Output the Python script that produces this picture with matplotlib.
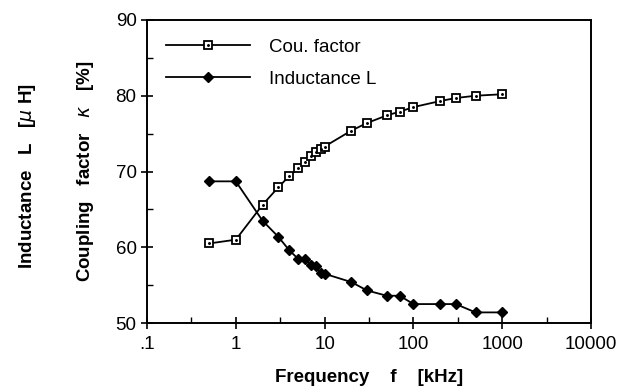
import matplotlib
matplotlib.use("Agg")
import matplotlib.pyplot as plt
import numpy as np
from matplotlib.ticker import FixedLocator, FixedFormatter

plt.rcParams['font.family'] = ['Liberation Sans', 'DejaVu Sans']

# frequency in kHz
freq = [0.5, 1, 2, 3, 4, 5, 6, 7, 8, 9, 10, 20, 30, 50, 70, 100, 200, 300, 500, 1000]
# coupling factor kappa [%]
coupling = [60.5, 61.0, 65.6, 67.9, 69.4, 70.4, 71.2, 72.0, 72.6, 73.0, 73.3,
            75.4, 76.4, 77.4, 77.9, 78.5, 79.3, 79.7, 80.0, 80.2]
# inductance L [uH]
inductance = [68.7, 68.7, 63.5, 61.4, 59.6, 58.5, 58.5, 57.6, 57.5, 56.6, 56.5,
              55.4, 54.3, 53.6, 53.6, 52.5, 52.5, 52.5, 51.4, 51.4]

xticks = [0.1, 1, 10, 100, 1000, 10000]
xticklabels = ['.1', '1', '10', '100', '1000', '10000']
yticks = [50, 60, 70, 80, 90]

fig = plt.figure(figsize=(6.29, 3.92), dpi=100)
ax = fig.add_axes([0.2337, 0.176, 0.706, 0.773])

l1, = ax.plot(freq, coupling, '-', color='black', lw=1.3, marker='s', ms=5.8,
              mfc='white', mec='black', mew=1.3)
d1, = ax.plot(freq, coupling, ' ', color='black', marker='.', ms=2.2)
l2, = ax.plot(freq, inductance, '-', color='black', lw=1.3, marker='D', ms=5.2,
              mfc='black', mec='black')

ax.set_xscale('log')
ax.set_xlim(0.1, 10000)
ax.set_ylim(50, 90)

ax.xaxis.set_major_locator(FixedLocator(xticks))
ax.xaxis.set_major_formatter(FixedFormatter(xticklabels))
ax.xaxis.set_minor_locator(FixedLocator([10 ** (k + 0.5) for k in range(-1, 4)]))
ax.xaxis.set_minor_formatter(FixedFormatter([]))
ax.set_yticks(yticks)
ax.yaxis.set_minor_locator(FixedLocator([55, 65, 75, 85]))

ax.tick_params(which='major', direction='inout', length=8, width=1.2, labelsize=13.5)
ax.tick_params(which='minor', direction='in', length=4, width=1.0)
ax.tick_params(axis='x', which='major', pad=5)
for s in ax.spines.values():
    s.set_linewidth(1.4)

ax.set_xlabel('Frequency    f    [kHz]', fontsize=13.5, fontweight='bold', labelpad=12)
ax.set_ylabel('Coupling   factor   $\\kappa$   [%]', fontsize=13.5, fontweight='bold', labelpad=14)
fig.text(0.043, 0.55, 'Inductance   L   [$\\mu$ H]', rotation=90, fontsize=13.5,
         fontweight='bold', ha='center', va='center')

ax.legend([(l1, d1), l2], ['Cou. factor', 'Inductance L'], loc='upper left',
          frameon=False, handlelength=4.5, handletextpad=1.0, fontsize=13.5,
          borderaxespad=0.6, labelspacing=0.8)

fig.savefig('out.png', dpi=100)
